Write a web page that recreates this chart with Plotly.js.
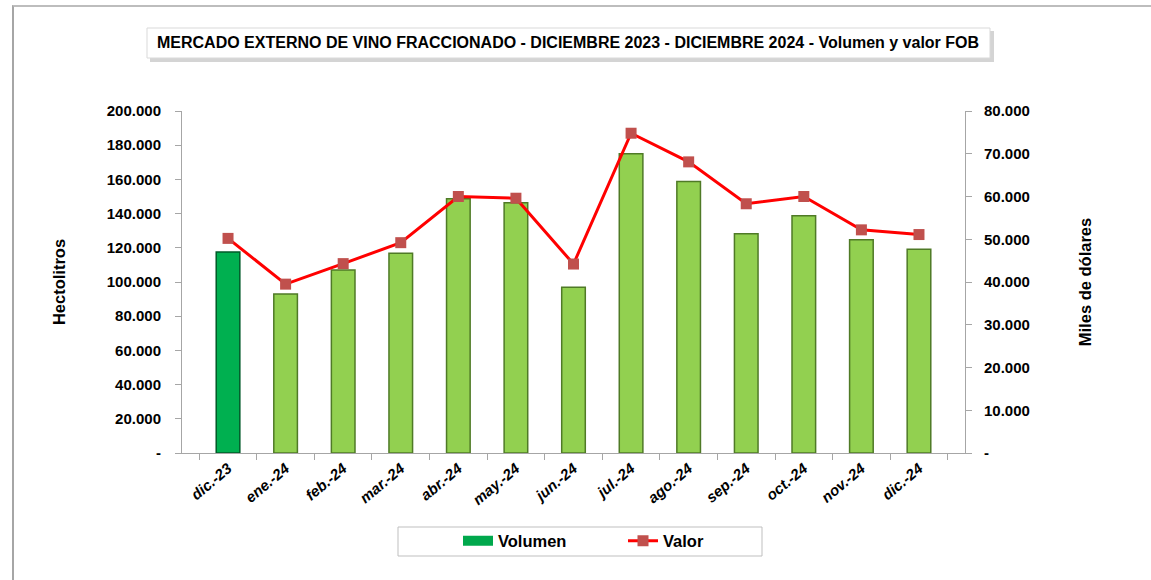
<!DOCTYPE html>
<html>
<head>
<meta charset="utf-8">
<script src="https://cdn.plot.ly/plotly-3.0.1.min.js"></script>
<style>
  html, body { margin: 0; padding: 0; background: #ffffff; }
  #wrap { position: relative; width: 1151px; height: 580px; overflow: hidden; }
  #chart { position: absolute; left: 0; top: 0; width: 1151px; height: 580px; }
  #frame { position: absolute; left: 12px; top: 5px; width: 1200px; height: 600px;
           border-left: 2px solid #a6a6a6; border-top: 2px solid #bdbdbd; pointer-events: none; }
</style>
</head>
<body>
<div id="wrap">
  <div id="chart"></div>
  <div id="frame"></div>
</div>
<script>
const months = ["dic.-23","ene.-24","feb.-24","mar.-24","abr.-24","may.-24","jun.-24","jul.-24","ago.-24","sep.-24","oct.-24","nov.-24","dic.-24"];
const volumen = [117500, 93000, 107000, 116800, 148700, 146400, 96900, 175000, 158700, 128200, 138800, 124700, 119100];
const valor = [50200, 39500, 44300, 49200, 60000, 59600, 44200, 74800, 68100, 58300, 60000, 52200, 51100];

const leftTickVals = [0, 20000, 40000, 60000, 80000, 100000, 120000, 140000, 160000, 180000, 200000];
const leftTickText = ["-", "20.000", "40.000", "60.000", "80.000", "100.000", "120.000", "140.000", "160.000", "180.000", "200.000"];
const rightTickVals = [0, 10000, 20000, 30000, 40000, 50000, 60000, 70000, 80000];
const rightTickText = ["-", "10.000", "20.000", "30.000", "40.000", "50.000", "60.000", "70.000", "80.000"];

const barColors = months.map((m, i) => i === 0 ? "#00b050" : "#92d050");
const barLines = months.map((m, i) => i === 0 ? "#005a28" : "#4f7a26");

const FONT = "Liberation Sans, Arial, sans-serif";

// plot area in pixels: x 182..965, y 111..453
const px = v => (v - 182) / 783;
const py = v => (453 - v) / 342;

const traces = [
  {
    type: "bar",
    name: "Volumen",
    x: months,
    y: volumen,
    width: 0.41,
    marker: { color: barColors, line: { color: barLines, width: 1.5 } },
    yaxis: "y",
    showlegend: false,
    hoverinfo: "x+y"
  },
  {
    type: "scatter",
    mode: "lines",
    name: "Volumen",
    x: [null],
    y: [null],
    yaxis: "y",
    line: { color: "#00a84c", width: 12 },
    hoverinfo: "skip"
  },
  {
    type: "scatter",
    mode: "lines+markers",
    name: "Valor",
    x: months,
    y: valor,
    yaxis: "y2",
    line: { color: "#ff0000", width: 3 },
    marker: { symbol: "square", size: 11, color: "#c0504d" }
  }
];

const layout = {
  width: 1151,
  height: 580,
  margin: { l: 182, r: 186, t: 111, b: 127 },
  paper_bgcolor: "#ffffff",
  plot_bgcolor: "#ffffff",
  font: { family: FONT, color: "#000000" },
  showlegend: true,
  xaxis: {
    type: "category",
    tickangle: -40,
    tickfont: { family: FONT, size: 15, color: "#000000", weight: "bold", style: "italic" },
    showline: true,
    linecolor: "#a6a6a6",
    linewidth: 1,
    ticks: "outside",
    tickson: "boundaries",
    ticklen: 6,
    tickcolor: "#a6a6a6",
    showgrid: false,
    zeroline: false,
    fixedrange: true
  },
  yaxis: {
    range: [0, 200000],
    tickvals: leftTickVals,
    ticktext: leftTickText,
    tickfont: { family: FONT, size: 15, color: "#000000", weight: "bold" },
    showline: true,
    linecolor: "#a6a6a6",
    linewidth: 1,
    ticks: "outside",
    ticklen: 6,
    tickcolor: "#a6a6a6",
    ticklabelstandoff: 11,
    showgrid: false,
    zeroline: false,
    title: { text: "Hectolitros", font: { family: FONT, size: 16.5, color: "#000000", weight: "bold" }, standoff: 36 },
    fixedrange: true
  },
  yaxis2: {
    overlaying: "y",
    side: "right",
    range: [0, 80000],
    tickvals: rightTickVals,
    ticktext: rightTickText,
    tickfont: { family: FONT, size: 15, color: "#000000", weight: "bold" },
    showline: true,
    linecolor: "#a6a6a6",
    linewidth: 1,
    ticks: "outside",
    ticklen: 6,
    tickcolor: "#a6a6a6",
    ticklabelstandoff: 9,
    showgrid: false,
    zeroline: false,
    title: { text: "Miles de dólares", font: { family: FONT, size: 16.5, color: "#000000", weight: "bold" }, standoff: 50 },
    fixedrange: true
  },
  legend: {
    orientation: "h",
    x: px(458),
    xanchor: "left",
    y: py(541),
    yanchor: "middle",
    borderwidth: 0,
    bgcolor: "rgba(0,0,0,0)",
    font: { family: FONT, size: 16.5, color: "#000000", weight: "bold" },
    entrywidth: 120,
    itemwidth: 30
  },
  shapes: [
    { type: "rect", xref: "paper", yref: "paper",
      x0: px(150), x1: px(994), y0: py(62), y1: py(31),
      fillcolor: "#d4d4d4", line: { width: 0 }, layer: "below" },
    { type: "rect", xref: "paper", yref: "paper",
      x0: px(147), x1: px(990), y0: py(58), y1: py(28),
      fillcolor: "#ffffff", line: { color: "#d9d9d9", width: 1 }, layer: "below" },
    { type: "rect", xref: "paper", yref: "paper",
      x0: px(398), x1: px(762), y0: py(556), y1: py(527),
      fillcolor: "#ffffff", line: { color: "#bfbfbf", width: 1 }, layer: "below" }
  ],
  annotations: [
    {
      text: "MERCADO EXTERNO DE VINO FRACCIONADO - DICIEMBRE 2023 - DICIEMBRE 2024 - Volumen y valor FOB",
      xref: "paper", yref: "paper",
      x: px(568), y: py(43),
      xanchor: "center", yanchor: "middle",
      showarrow: false,
      font: { family: FONT, size: 16, color: "#000000", weight: "bold" }
    }
  ]
};

Plotly.newPlot("chart", traces, layout, { displayModeBar: false, staticPlot: true });
</script>
</body>
</html>
